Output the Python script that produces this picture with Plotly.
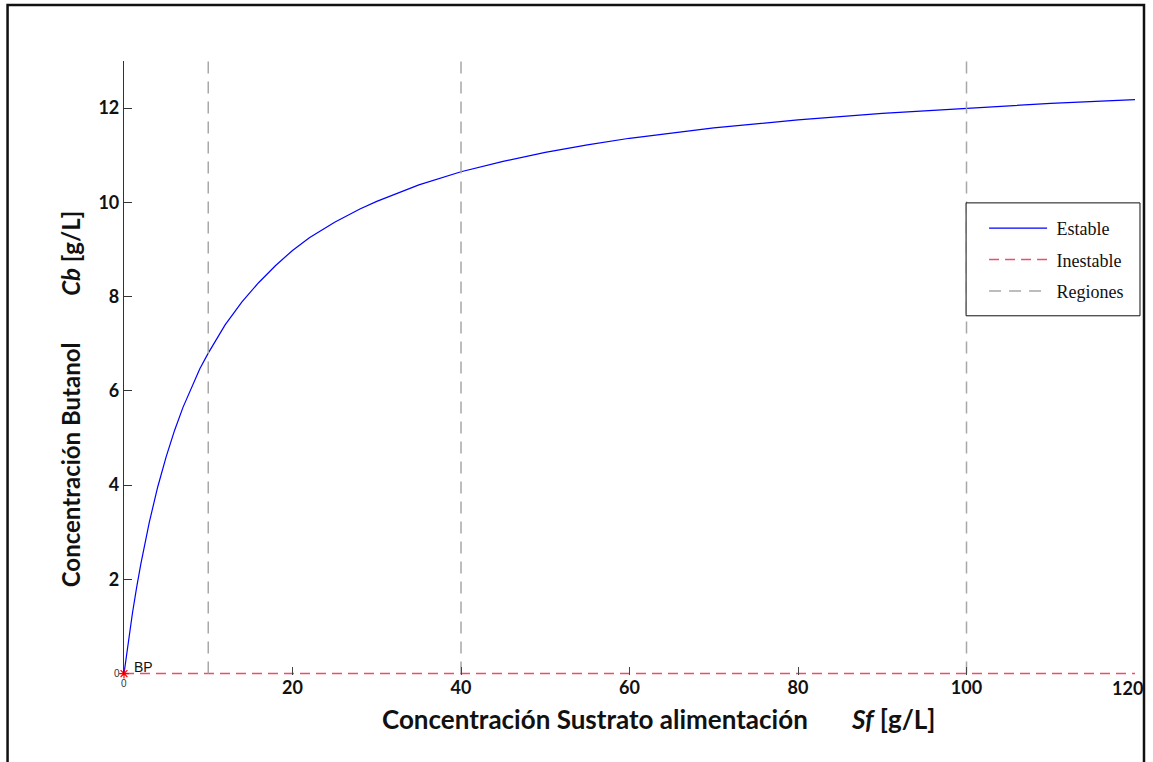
import plotly.graph_objects as go

# ---- data ----
sf_estable = [0, 0.25, 0.5, 1, 1.5, 2, 3, 4, 5, 6, 7, 8, 9, 10, 12, 14, 16, 18,
              20, 22, 25, 28, 30, 35, 40, 45, 50, 55, 60, 70, 80, 90, 100,
              110, 120]
cb_estable = [0, 0.35, 0.67, 1.28, 1.83, 2.33, 3.21, 3.96, 4.6, 5.16, 5.65,
              6.08, 6.47, 6.8, 7.4, 7.89, 8.3, 8.66, 8.98, 9.25, 9.58, 9.86,
              10.02, 10.37, 10.65, 10.87, 11.06, 11.22, 11.36, 11.58, 11.75,
              11.89, 12.0, 12.1, 12.18]
sf_inestable = [0, 120]
cb_inestable = [0, 0]
sf_regiones = [10, 40, 100]
cb_region_span = [0, 13]
bp_sf = [0]
bp_cb = [0]
bp_label = "BP"
x_ticks = [20, 40, 60, 80, 100, 120]
y_ticks = [2, 4, 6, 8, 10, 12]

# plot-area geometry (pixels) for converting to paper coords
L, R, T, B = 123.5, 1135.0, 61.0, 675.5
W, H = R - L, B - T
Y_MIN, Y_MAX = -0.03, 13
def px(xp):
    return (xp - L) / W
def py(yp):
    return (B - yp) / H

NB = "\u00a0"

fig = go.Figure()

fig.add_trace(go.Scatter(
    x=sf_estable, y=cb_estable, mode="lines", name=NB + "Estable",
    legendgroup="a",
    line=dict(color="#0000ff", width=1.2)))

fig.add_trace(go.Scatter(
    x=sf_inestable, y=cb_inestable, mode="lines", name=NB + "Inestable",
    legendgroup="b",
    line=dict(color="#e8506a", width=1.5, dash="10px,6px")))

rx, ry = [], []
for s in sf_regiones:
    rx += [s, s, None]
    ry += [cb_region_span[0], cb_region_span[1], None]
fig.add_trace(go.Scatter(
    x=rx, y=ry, mode="lines", name=NB + "Regiones", legendgroup="c",
    line=dict(color="#a8a8a8", width=1.5, dash="12px,8px")))

fig.add_trace(go.Scatter(
    x=bp_sf, y=bp_cb, mode="markers", showlegend=False,
    marker=dict(symbol="asterisk-open", color="red", size=8,
                line=dict(color="red", width=1.2)),
    cliponaxis=False))

tick_font = dict(family="Lato", size=18, color="#111", weight="bold")

# last x tick label is drawn as an annotation (shifted left like the original)
x_ticktext = [str(v) for v in x_ticks[:-1]] + [""]

fig.update_xaxes(
    range=[0, 120], tickvals=x_ticks, ticktext=x_ticktext,
    showgrid=False, zeroline=False, showline=False, automargin=False,
    ticks="inside", ticklen=8, tickcolor="#444", tickfont=tick_font)
fig.update_yaxes(
    range=[Y_MIN, Y_MAX], tickvals=y_ticks, ticktext=[str(v) for v in y_ticks],
    showgrid=False, zeroline=False, showline=True, linecolor="#333",
    linewidth=1.2, ticks="inside", ticklen=8, tickcolor="#333",
    automargin=False, tickfont=tick_font)

annotations = [
    dict(text="Concentración Sustrato alimentación&nbsp;&nbsp;&nbsp;&nbsp;&nbsp;&nbsp;&nbsp;<i>Sf</i> [g/L]",
         x=px(658), y=py(720), xref="paper", yref="paper",
         xanchor="center", yanchor="middle", showarrow=False,
         font=dict(family="Lato", size=26, color="#111", weight="bold")),
    dict(text="Concentración Butanol&nbsp;&nbsp;&nbsp;&nbsp;&nbsp;&nbsp;&nbsp;&nbsp;<i>Cb</i> [g/L]",
         x=px(70), y=py(400), xref="paper", yref="paper", textangle=-90,
         xanchor="center", yanchor="middle", showarrow=False,
         font=dict(family="Lato", size=24, color="#111", weight="bold")),
    dict(text=str(x_ticks[-1]), x=x_ticks[-1], y=py(676), xref="x", yref="paper",
         xanchor="center", yanchor="top", xshift=-8, showarrow=False,
         font=tick_font),
    dict(text=bp_label, x=bp_sf[0], y=bp_cb[0], xref="x", yref="y",
         xanchor="left", yanchor="middle", xshift=8, yshift=7,
         showarrow=False,
         font=dict(family="Liberation Sans", size=14, color="#111")),
    dict(text="0", x=px(116), y=py(674), xref="paper", yref="paper",
         xanchor="center", yanchor="middle", showarrow=False,
         font=dict(family="Liberation Sans", size=10, color="#333")),
    dict(text="0", x=px(124), y=py(684), xref="paper", yref="paper",
         xanchor="center", yanchor="middle", showarrow=False,
         font=dict(family="Liberation Sans", size=10, color="#333")),
]

shapes = [
    dict(type="rect", xref="paper", yref="paper",
         x0=px(7), x1=px(1144), y0=py(775), y1=py(5),
         line=dict(color="#111", width=2.5), fillcolor="rgba(0,0,0,0)",
         layer="below"),
    dict(type="rect", xref="paper", yref="paper",
         x0=px(966), x1=px(1140), y0=py(316), y1=py(203),
         line=dict(color="#111", width=1), fillcolor="white",
         layer="above"),
]

fig.update_layout(
    width=1153, height=762,
    margin=dict(l=L, r=1153 - R, t=T, b=762 - B, autoexpand=False),
    paper_bgcolor="white", plot_bgcolor="white",
    annotations=annotations, shapes=shapes,
    legend=dict(x=px(984), y=py(210), xanchor="left", yanchor="top",
                bgcolor="rgba(0,0,0,0)", borderwidth=0,
                font=dict(family="Liberation Serif", size=18, color="#111"),
                itemwidth=58, tracegroupgap=5),
    showlegend=True,
)

fig.write_html("out.html")
